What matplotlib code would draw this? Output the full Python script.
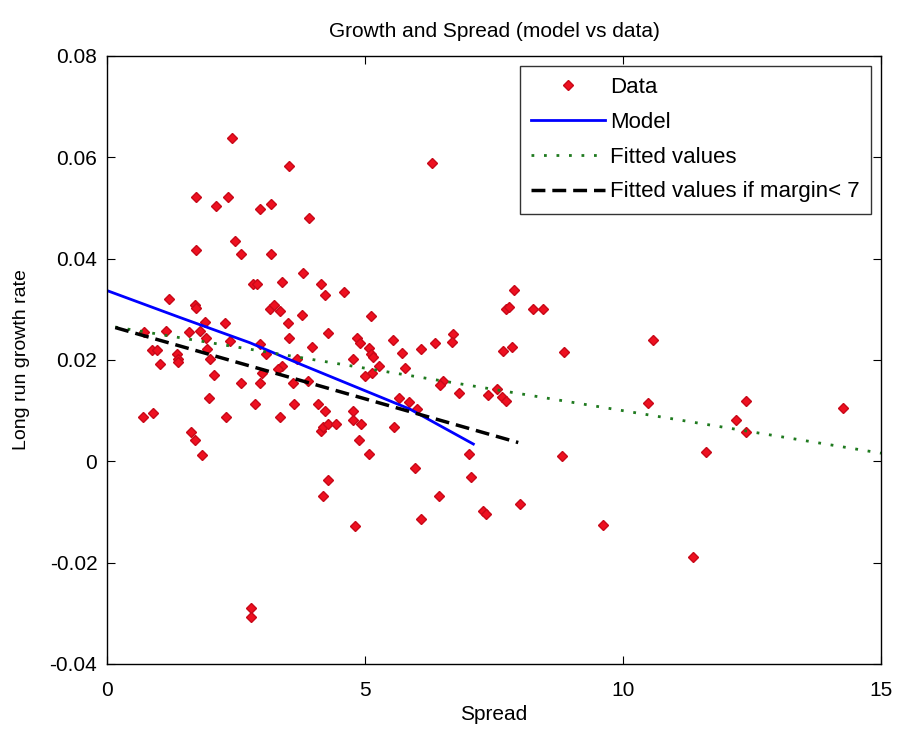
import matplotlib
matplotlib.use("Agg")
import matplotlib.pyplot as plt

plt.rcParams['font.family'] = ['Liberation Sans', 'DejaVu Sans']

# data points
spread = [2.43, 3.53, 6.30, 1.73, 2.35, 2.11, 2.97, 3.18, 3.91, 2.49,
          1.73, 2.60, 3.18, 3.80, 2.82, 2.90, 3.39, 4.15, 4.23, 4.60,
          1.21, 1.71, 1.73, 3.16, 3.24, 3.35, 3.77, 5.12, 7.89, 7.73,
          7.79, 8.26, 8.44, 1.89, 2.29, 3.50, 0.72, 1.14, 1.59, 1.80,
          4.29, 1.91, 2.39, 3.53, 2.97, 0.87, 0.97, 1.94, 3.97, 1.35,
          1.38, 1.38, 1.03, 3.08, 3.68, 1.99, 3.39, 3.32, 3.01, 2.08,
          2.60, 2.97, 3.60, 3.90, 1.97, 2.87, 3.63, 4.09, 4.23, 0.69,
          0.90, 2.31, 3.35, 4.15, 4.19, 4.29, 4.43, 1.62, 1.71, 1.84,
          4.29, 4.19, 4.84, 4.90, 5.54, 5.08, 5.12, 5.16, 5.71, 6.09,
          6.36, 6.71, 6.68, 7.68, 7.85, 4.77, 5.27, 5.13, 5.00, 5.78,
          6.51, 6.45, 6.82, 7.38, 7.55, 7.65, 7.73, 5.65, 5.85, 6.00,
          4.77, 4.77, 4.92, 5.57, 4.88, 5.08, 7.02, 5.96, 7.05, 6.44,
          8.86, 10.59, 10.49, 12.38, 14.26, 12.18, 12.38, 11.60, 8.82, 8.00,
          9.62, 11.35, 2.80, 2.80, 4.81, 6.09, 7.29, 7.34]
growth = [0.0638, 0.0582, 0.0589, 0.0522, 0.0522, 0.0504, 0.0497, 0.0508, 0.0480, 0.0434,
          0.0417, 0.0409, 0.0409, 0.0371, 0.0350, 0.0350, 0.0353, 0.0350, 0.0328, 0.0335,
          0.0321, 0.0309, 0.0303, 0.0300, 0.0309, 0.0296, 0.0289, 0.0287, 0.0338, 0.0300,
          0.0305, 0.0300, 0.0300, 0.0275, 0.0272, 0.0272, 0.0256, 0.0257, 0.0256, 0.0257,
          0.0254, 0.0244, 0.0238, 0.0244, 0.0232, 0.0220, 0.0220, 0.0222, 0.0226, 0.0211,
          0.0201, 0.0195, 0.0192, 0.0211, 0.0201, 0.0201, 0.0188, 0.0182, 0.0174, 0.0170,
          0.0155, 0.0155, 0.0155, 0.0159, 0.0124, 0.0113, 0.0113, 0.0113, 0.0099, 0.0088,
          0.0095, 0.0088, 0.0088, 0.0060, 0.0067, 0.0073, 0.0073, 0.0057, 0.0042, 0.0012,
          -0.0036, -0.0069, 0.0244, 0.0234, 0.0240, 0.0223, 0.0211, 0.0205, 0.0213, 0.0222,
          0.0234, 0.0252, 0.0236, 0.0218, 0.0226, 0.0201, 0.0188, 0.0175, 0.0168, 0.0184,
          0.0159, 0.0151, 0.0134, 0.0130, 0.0142, 0.0126, 0.0119, 0.0124, 0.0118, 0.0104,
          0.0099, 0.0082, 0.0074, 0.0068, 0.0042, 0.0015, 0.0014, -0.0014, -0.0031, -0.0068,
          0.0215, 0.0239, 0.0116, 0.0119, 0.0105, 0.0081, 0.0057, 0.0018, 0.0010, -0.0085,
          -0.0126, -0.0188, -0.0289, -0.0307, -0.0128, -0.0113, -0.0098, -0.0105]

# model curve
model_x = [0.0, 1.41, 2.77, 3.74, 4.84, 5.87, 7.10]
model_y = [0.0337, 0.0284, 0.0234, 0.0192, 0.0146, 0.0103, 0.0034]

# fitted lines (end points)
fit_x = [0.16, 15.0]
fit_y = [0.0265, 0.0016]
fit7_x = [0.16, 7.97]
fit7_y = [0.0264, 0.0037]

yticks = [-0.04, -0.02, 0, 0.02, 0.04, 0.06, 0.08]
ytick_labels = ['-0.04', '-0.02', '0', '0.02', '0.04', '0.06', '0.08']
xticks = [0, 5, 10, 15]

fs = 15

fig = plt.figure(figsize=(8.99, 7.32), dpi=100)
ax = fig.add_axes([0.119, 0.093, 0.861, 0.8305])

ax.plot(spread, growth, linestyle='none', marker='D', markersize=5.5,
        markerfacecolor='#ee1020', markeredgecolor='#c80818', label='Data')
ax.plot(model_x, model_y, color='#0000ff', linewidth=2, label='Model')
ax.plot(fit_x, fit_y, color='#1f7a1f', linestyle=(0, (1, 3.5)), linewidth=2,
        label='Fitted values')
ax.plot(fit7_x, fit7_y, color='black', linestyle=(0, (4, 2)), linewidth=2.5,
        label='Fitted values if margin< 7')

ax.set_xlim(0, 15)
ax.set_ylim(-0.04, 0.08)
ax.set_xticks(xticks)
ax.set_xticklabels([str(t) for t in xticks])
ax.set_yticks(yticks)
ax.set_yticklabels(ytick_labels)
ax.tick_params(direction='in', top=True, right=True, labelsize=fs, length=6)
ax.tick_params(axis='x', pad=12)
ax.tick_params(axis='y', pad=7)
for s in ax.spines.values():
    s.set_linewidth(1)

ax.set_title('Growth and Spread (model vs data)', fontsize=fs, pad=14)
ax.set_xlabel('Spread', fontsize=fs, labelpad=4)
ax.set_ylabel('Long run growth rate', fontsize=14, labelpad=14)

leg = ax.legend(loc='upper right', fontsize=16, handlelength=3.3, frameon=True,
                fancybox=False, borderaxespad=0.45, handletextpad=0.25,
                labelspacing=0.62, borderpad=0.5)
leg.get_frame().set_edgecolor('black')
leg.get_frame().set_linewidth(1)

fig.savefig('out.png', dpi=100)
